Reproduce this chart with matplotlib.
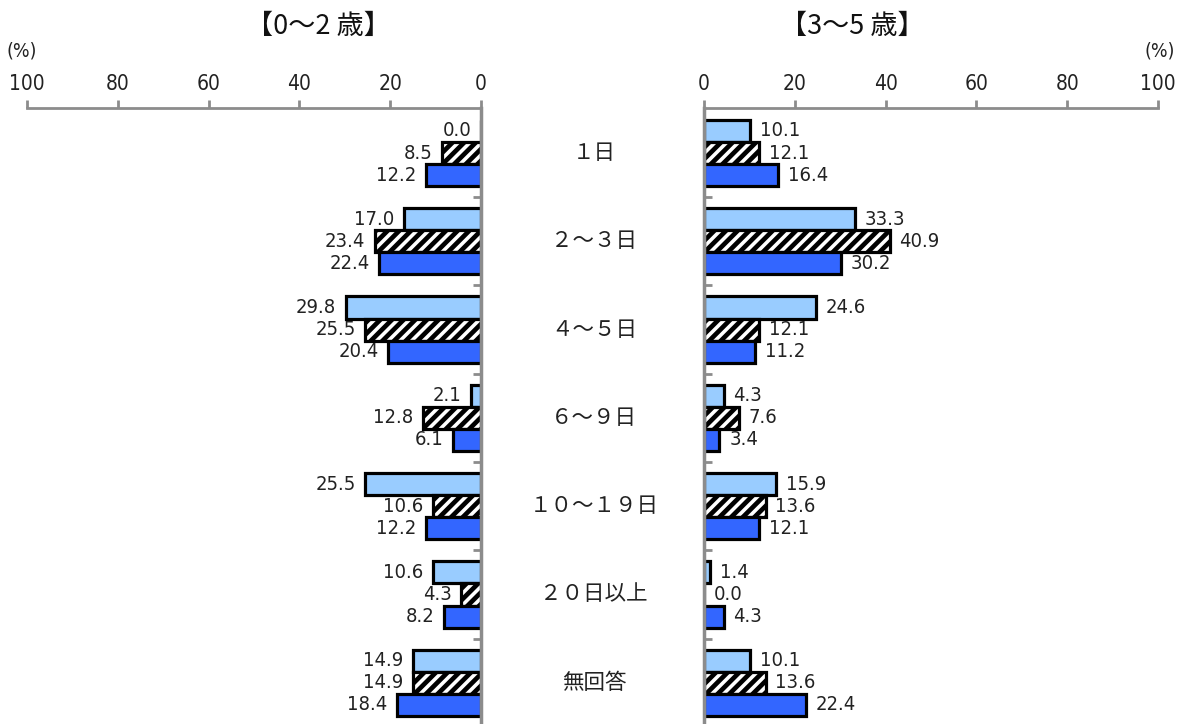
import matplotlib
matplotlib.use("Agg")
import matplotlib.pyplot as plt
from matplotlib import font_manager
from matplotlib.font_manager import FontProperties

categories = ["１日", "２～３日", "４～５日", "６～９日", "１０～１９日", "２０日以上", "無回答"]
series_names = ["系列1", "系列2", "系列3"]
left_title = "【0～2 歳】"
right_title = "【3～5 歳】"
left_s1 = [0.0, 17.0, 29.8, 2.1, 25.5, 10.6, 14.9]
left_s2 = [8.5, 23.4, 25.5, 12.8, 10.6, 4.3, 14.9]
left_s3 = [12.2, 22.4, 20.4, 6.1, 12.2, 8.2, 18.4]
right_s1 = [10.1, 33.3, 24.6, 4.3, 15.9, 1.4, 10.1]
right_s2 = [12.1, 40.9, 12.1, 7.6, 13.6, 0.0, 13.6]
right_s3 = [16.4, 30.2, 11.2, 3.4, 12.1, 4.3, 22.4]
xticks = [0, 20, 40, 60, 80, 100]

# look for a condensed / narrow font file
narrow_file = None
for f in font_manager.fontManager.ttflist:
    fn = f.fname.lower()
    if ("condensed" in fn or "narrow" in fn) and "bold" not in fn and "oblique" not in fn and "italic" not in fn:
        if "sans" in fn or "roboto" in fn or "narrow" in fn:
            narrow_file = f.fname
            break

def numfont(size):
    if narrow_file:
        return FontProperties(fname=narrow_file, size=size)
    return FontProperties(family="DejaVu Sans", size=size)

CJK = ["Noto Sans CJK JP", "DejaVu Sans"]

DPI = 140
S = 100 / DPI  # sizes below are given as if dpi were 100
plt.rcParams["hatch.linewidth"] = 2.4

W, H = 1180, 724
fig = plt.figure(figsize=(W / DPI, H / DPI), dpi=DPI)

top_px = 108
ax_h = (H - top_px) / H
axL = fig.add_axes([27 / W, 0, (481 - 27) / W, ax_h])
axR = fig.add_axes([704 / W, 0, (1158 - 704) / W, ax_h])

spacing = 88.3
y0 = 153
ytop = -(y0 - top_px) / spacing
ybot = (H - y0) / spacing
bh = 0.25
offs = [-bh, 0, bh]
colors = ["#99CCFF", "white", "#3366FF"]
hatches = [None, "////", None]
gray = "#8c8c8c"
tc = "#222222"

def draw(ax, data, side):
    ys = list(range(len(categories)))
    for k, vals in enumerate(data):
        pos = [y + offs[k] for y in ys]
        ax.barh(pos, vals, height=bh, color=colors[k], edgecolor="black",
                linewidth=2.3 * S, hatch=hatches[k], label=series_names[k], zorder=2)
        for p, v in zip(pos, vals):
            if side == "left":
                ax.annotate(f"{v:.1f}", (v, p), xytext=(-7 * S, 0), textcoords="offset points",
                            ha="right", va="center", fontproperties=numfont(14.5 * S), color=tc)
            else:
                ax.annotate(f"{v:.1f}", (v, p), xytext=(7 * S, 0), textcoords="offset points",
                            ha="left", va="center", fontproperties=numfont(14.5 * S), color=tc)
    ax.set_ylim(ybot, ytop)
    ax.set_xlim(0, 100)
    if side == "left":
        ax.invert_xaxis()
    ax.xaxis.tick_top()
    ax.set_xticks(xticks)
    ax.set_xticklabels([str(t) for t in xticks])
    for lab in ax.get_xticklabels():
        lab.set_fontproperties(numfont(15 * S))
        lab.set_color(tc)
    ax.tick_params(axis="x", direction="out", length=6 * S, width=2 * S, color=gray, pad=4 * S)
    ax.set_yticks([i + 0.5 for i in range(len(categories) - 1)])
    ax.set_yticklabels([])
    ax.spines["bottom"].set_visible(False)
    ax.spines["top"].set_color(gray)
    ax.spines["top"].set_linewidth(2 * S)
    if side == "left":
        ax.spines["left"].set_visible(False)
        ax.spines["right"].set_color(gray)
        ax.spines["right"].set_linewidth(2.5 * S)
        ax.yaxis.tick_right()
    else:
        ax.spines["right"].set_visible(False)
        ax.spines["left"].set_color(gray)
        ax.spines["left"].set_linewidth(2.5 * S)
        ax.yaxis.tick_left()
    ax.tick_params(axis="y", direction="in", length=6 * S, width=2 * S, color=gray)
    ax.set_facecolor("none")

draw(axL, [left_s1, left_s2, left_s3], "left")
draw(axR, [right_s1, right_s2, right_s3], "right")

for i, c in enumerate(categories):
    ypx = y0 + spacing * i
    fig.text(594 / W, 1 - ypx / H, c, ha="center", va="center", fontsize=15.5 * S,
             family=CJK, color=tc)

fig.text(318 / W, 1 - 26 / H, left_title, ha="center", va="center", fontsize=19.5 * S, family=CJK, color="#111111")
fig.text(852 / W, 1 - 26 / H, right_title, ha="center", va="center", fontsize=19.5 * S, family=CJK, color="#111111")
fig.text(22 / W, 1 - 51 / H, "(%)", ha="center", va="center", fontproperties=numfont(14 * S), color=tc)
fig.text(1160 / W, 1 - 51 / H, "(%)", ha="center", va="center", fontproperties=numfont(14 * S), color=tc)

fig.savefig("out.png", dpi=DPI)
